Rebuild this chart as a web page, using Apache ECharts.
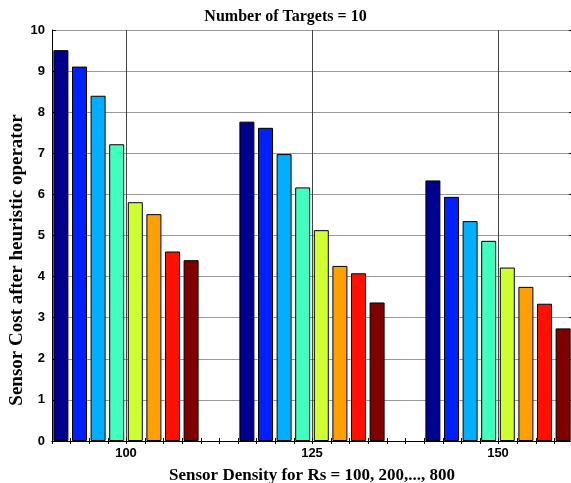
<!DOCTYPE html>
<html>
<head>
<meta charset="utf-8">
<script src="https://cdn.jsdelivr.net/npm/echarts@6/dist/echarts.min.js"></script>
<style>
html,body{margin:0;padding:0;background:#fff;}
#chart{width:571px;height:483px;}
</style>
</head>
<body>
<div id="chart"></div>
<script>
// ---- data ----
const categories = ['100', '125', '150'];
const seriesNames = ['Rs = 100', 'Rs = 200', 'Rs = 300', 'Rs = 400', 'Rs = 500', 'Rs = 600', 'Rs = 700', 'Rs = 800'];
const rs100 = [9.51, 7.77, 6.34];
const rs200 = [9.11, 7.62, 5.94];
const rs300 = [8.40, 6.98, 5.35];
const rs400 = [7.22, 6.17, 4.87];
const rs500 = [5.81, 5.13, 4.22];
const rs600 = [5.52, 4.26, 3.75];
const rs700 = [4.61, 4.08, 3.34];
const rs800 = [4.40, 3.37, 2.74];
const yTicks = [0, 1, 2, 3, 4, 5, 6, 7, 8, 9, 10];
const colors = ['#00008F', '#0020FF', '#00AFFF', '#40FFBF', '#CFFF30', '#FFA000', '#FF1000', '#800000'];

const allSeries = [rs100, rs200, rs300, rs400, rs500, rs600, rs700, rs800];
const labelFont = { fontFamily: 'Liberation Sans, Arial, sans-serif', fontWeight: 'bold', fontSize: 13, color: '#000' };
const serif = 'Liberation Serif, Times New Roman, serif';

const chart = echarts.init(document.getElementById('chart'), null, { renderer: 'canvas' });
const option = {
  animation: false,
  backgroundColor: '#fff',
  title: {
    text: 'Number of Targets = 10',
    left: 'center',
    top: 4,
    textStyle: { fontFamily: serif, fontWeight: 'bold', fontSize: 16, color: '#000' }
  },
  grid: [
    { left: 52, top: 30, width: 521, height: 411, show: false, outerBoundsMode: 'none', containLabel: false },
    { left: 126, top: 30, width: 372, height: 411, show: false, outerBoundsMode: 'none', containLabel: false }
  ],
  xAxis: [
    { gridIndex: 0, type: 'value', position: 'bottom', min: 0.6, max: 3.4, interval: 0.1,
      axisLine: { show: true, lineStyle: { color: '#000', width: 1 } },
      axisTick: { show: true, inside: true, length: 3, lineStyle: { color: '#000' } },
      axisLabel: { show: false }, splitLine: { show: false } },
    { gridIndex: 0, type: 'value', position: 'top', min: 0.6, max: 3.4, interval: 0.1,
      axisLine: { show: true, lineStyle: { color: '#000', width: 1 } },
      axisTick: { show: true, inside: true, length: 3, lineStyle: { color: '#000' } },
      axisLabel: { show: false }, splitLine: { show: false } },
    { gridIndex: 1, type: 'category', data: categories, boundaryGap: false,
      axisLine: { show: false }, axisTick: { show: false },
      axisLabel: Object.assign({ margin: 6 }, labelFont),
      splitLine: { show: true, lineStyle: { color: '#444', width: 1 } },
      name: 'Sensor Density for Rs = 100, 200,..., 800',
      nameLocation: 'middle', nameGap: 26,
      nameTextStyle: { fontFamily: serif, fontWeight: 'bold', fontSize: 17, color: '#000' } }
  ],
  yAxis: [
    { gridIndex: 0, type: 'value', position: 'left', min: 0, max: 10, interval: 1,
      axisLine: { show: true, lineStyle: { color: '#000', width: 1 } },
      axisTick: { show: true, inside: true, length: 4, lineStyle: { color: '#000' } },
      axisLabel: Object.assign({ margin: 7 }, labelFont),
      splitLine: { show: true, lineStyle: { color: '#999', width: 1 } } },
    { gridIndex: 0, type: 'value', position: 'right', min: 0, max: 10, interval: 1,
      axisLine: { show: true, lineStyle: { color: '#000', width: 1 } },
      axisTick: { show: true, inside: true, length: 4, lineStyle: { color: '#000' } },
      axisLabel: { show: false }, splitLine: { show: false } },
    { gridIndex: 1, type: 'value', min: 0, max: 10, show: false, splitLine: { show: false } }
  ],
  graphic: [
    { type: 'text', x: 17, y: 260, rotation: Math.PI / 2,
      style: { text: 'Sensor Cost after heuristic operator', textAlign: 'center', textVerticalAlign: 'middle',
        font: 'bold 19px "Liberation Serif", "Times New Roman", serif', fill: '#000' } }
  ],
  series: allSeries.map((vals, i) => ({
    name: seriesNames[i],
    type: 'bar',
    xAxisIndex: 2,
    yAxisIndex: 2,
    data: vals,
    barWidth: 15,
    barGap: '24%',
    clip: false,
    itemStyle: { color: colors[i], borderColor: '#000', borderWidth: 1 }
  }))
};
chart.setOption(option);
</script>
</body>
</html>
